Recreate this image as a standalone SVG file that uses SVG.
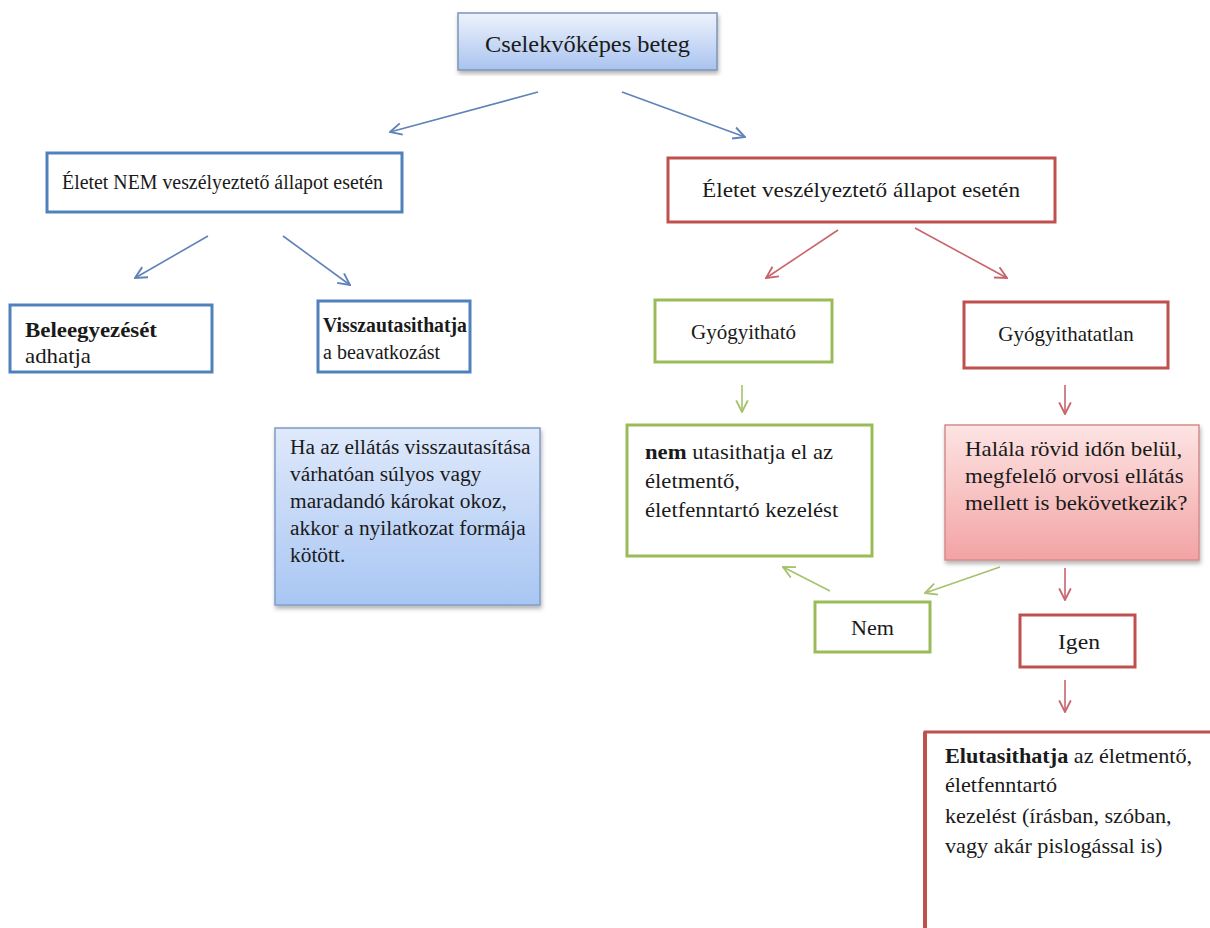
<svg xmlns="http://www.w3.org/2000/svg" width="1210" height="928" viewBox="0 0 1210 928">
<defs>
<linearGradient id="gTop" x1="0" y1="0" x2="0" y2="1"><stop offset="0" stop-color="#eef3fc"/><stop offset="1" stop-color="#a9c3ef"/></linearGradient>
<linearGradient id="gBlue" x1="0" y1="0" x2="0" y2="1"><stop offset="0" stop-color="#dfe9fb"/><stop offset="1" stop-color="#a8c6f3"/></linearGradient>
<linearGradient id="gPink" x1="0" y1="0" x2="0" y2="1"><stop offset="0" stop-color="#fde4e4"/><stop offset="1" stop-color="#f3a3a3"/></linearGradient>
<marker id="aB" viewBox="0 0 12 12" refX="11" refY="6" markerWidth="14" markerHeight="14" markerUnits="userSpaceOnUse" orient="auto"><path d="M1,1 L11,6 L1,11" fill="none" stroke="#5f82b8" stroke-width="1.6"/></marker>
<marker id="aR" viewBox="0 0 12 12" refX="11" refY="6" markerWidth="14" markerHeight="14" markerUnits="userSpaceOnUse" orient="auto"><path d="M1,1 L11,6 L1,11" fill="none" stroke="#c8646c" stroke-width="1.6"/></marker>
<marker id="aG" viewBox="0 0 12 12" refX="11" refY="6" markerWidth="14" markerHeight="14" markerUnits="userSpaceOnUse" orient="auto"><path d="M1,1 L11,6 L1,11" fill="none" stroke="#a5c26c" stroke-width="1.6"/></marker>
<filter id="sh" x="-5%" y="-5%" width="110%" height="115%"><feDropShadow dx="1" dy="3" stdDeviation="2" flood-color="#000" flood-opacity="0.3"/></filter>
</defs>
<style>
text{font-family:'Liberation Serif','Times New Roman',serif;fill:#1a1a1a}
.b{font-weight:bold}
.bl{fill:#fff;stroke:#4f81bd;stroke-width:3}
.rd{fill:#fff;stroke:#c0504d;stroke-width:3}
.gr{fill:#fff;stroke:#9bbb59;stroke-width:3}
.cb{stroke:#5f82b8;stroke-width:1.6;fill:none;marker-end:url(#aB)}
.cr{stroke:#c8646c;stroke-width:1.6;fill:none;marker-end:url(#aR)}
.cg{stroke:#a5c26c;stroke-width:1.6;fill:none;marker-end:url(#aG)}
</style>
<rect width="1210" height="928" fill="#fff"/>
<g id="connectors">
<line class="cb" x1="538" y1="92" x2="390" y2="132"/>
<line class="cb" x1="622" y1="92" x2="745" y2="137"/>
<line class="cb" x1="208" y1="236" x2="135" y2="278"/>
<line class="cb" x1="283" y1="236" x2="350" y2="285"/>
<line class="cr" x1="838" y1="230" x2="766" y2="278"/>
<line class="cr" x1="915" y1="228" x2="1007" y2="278"/>
<line class="cg" x1="742" y1="385" x2="742" y2="412"/>
<line class="cr" x1="1065" y1="385" x2="1065" y2="414"/>
<line class="cg" x1="1000" y1="567" x2="925" y2="593"/>
<line class="cg" x1="830" y1="591" x2="783" y2="567"/>
<line class="cr" x1="1065" y1="568" x2="1065" y2="600"/>
<line class="cr" x1="1065" y1="680" x2="1065" y2="712"/>
</g>
<g id="n-top">
<rect x="458" y="13" width="259" height="57" fill="url(#gTop)" stroke="#7d94b9" stroke-width="1.5" filter="url(#sh)"/>
<text x="485" y="52" font-size="24" textLength="205" lengthAdjust="spacingAndGlyphs">Cselekvőképes beteg</text>
</g>
<g id="n-nem-veszely">
<rect class="bl" x="47" y="153" width="355" height="59"/>
<text x="62" y="189" font-size="20" textLength="321" lengthAdjust="spacingAndGlyphs">Életet NEM veszélyeztető állapot esetén</text>
</g>
<g id="n-veszely">
<rect class="rd" x="668" y="158" width="387" height="64"/>
<text x="702" y="197" font-size="21" textLength="318" lengthAdjust="spacingAndGlyphs">Életet veszélyeztető állapot esetén</text>
</g>
<g id="n-beleegyezes">
<rect class="bl" x="10" y="305" width="202" height="67"/>
<text x="25" y="337" font-size="21" class="b" textLength="132" lengthAdjust="spacingAndGlyphs">Beleegyezését</text>
<text x="25" y="363" font-size="21" textLength="66" lengthAdjust="spacingAndGlyphs">adhatja</text>
</g>
<g id="n-visszautasit">
<rect class="bl" x="318" y="301" width="152" height="71"/>
<text x="323" y="332" font-size="20" class="b" textLength="144" lengthAdjust="spacingAndGlyphs">Visszautasithatja</text>
<text x="323" y="359" font-size="20">a beavatkozást</text>
</g>
<g id="n-ha-az">
<rect x="275" y="428" width="265" height="177" fill="url(#gBlue)" stroke="#7f9cc8" stroke-width="1.5" filter="url(#sh)"/>
<g transform="matrix(1.07 0 0 1 -20.3 0)" font-size="20">
<text x="290" y="454">Ha az ellátás visszautasítása</text>
<text x="290" y="481">várhatóan súlyos vagy</text>
<text x="290" y="508">maradandó károkat okoz,</text>
<text x="290" y="535">akkor a nyilatkozat formája</text>
<text x="290" y="562">kötött.</text>
</g>
</g>
<g id="n-gyogyithato">
<rect class="gr" x="655" y="300" width="177" height="62"/>
<text x="743.5" y="339" font-size="21" text-anchor="middle">Gyógyitható</text>
</g>
<g id="n-gyogyithatatlan">
<rect class="rd" x="964" y="302" width="204" height="66"/>
<text x="1066" y="341" font-size="21" text-anchor="middle">Gyógyithatatlan</text>
</g>
<g id="n-nem-utasithatja">
<rect class="gr" x="627" y="425" width="245" height="131"/>
<g transform="matrix(1.08 0 0 1 -51.6 0)" font-size="21">
<text x="645" y="459"><tspan class="b">nem</tspan> utasithatja el az</text>
<text x="645" y="488">életmentő,</text>
<text x="645" y="517">életfenntartó kezelést</text>
</g>
</g>
<g id="n-halala">
<rect x="945" y="425" width="254" height="135" fill="url(#gPink)" stroke="#d58c8c" stroke-width="1.5" filter="url(#sh)"/>
<g transform="matrix(1.09 0 0 1 -86.85 0)" font-size="21">
<text x="965" y="456">Halála rövid időn belül,</text>
<text x="965" y="483">megfelelő orvosi ellátás</text>
<text x="965" y="510">mellett is bekövetkezik?</text>
</g>
</g>
<g id="n-nem">
<rect class="gr" x="815" y="602" width="115" height="50"/>
<text x="872.5" y="635" font-size="21" text-anchor="middle" textLength="43" lengthAdjust="spacingAndGlyphs">Nem</text>
</g>
<g id="n-igen">
<rect class="rd" x="1020" y="615" width="115" height="52"/>
<text x="1079" y="649" font-size="21" text-anchor="middle" textLength="42" lengthAdjust="spacingAndGlyphs">Igen</text>
</g>
<g id="n-elutasithatja">
<rect class="rd" x="925" y="732" width="300" height="210"/>
<line x1="925" y1="732" x2="925" y2="928" stroke="#c0504d" stroke-width="4"/>
<g transform="matrix(1.11 0 0 1 -103.95 0)" font-size="20">
<text x="945" y="763"><tspan class="b">Elutasithatja</tspan> az életmentő,</text>
<text x="945" y="792">életfenntartó</text>
<text x="945" y="823">kezelést (írásban, szóban,</text>
<text x="945" y="853">vagy akár pislogással is)</text>
</g>
</g>
</svg>
